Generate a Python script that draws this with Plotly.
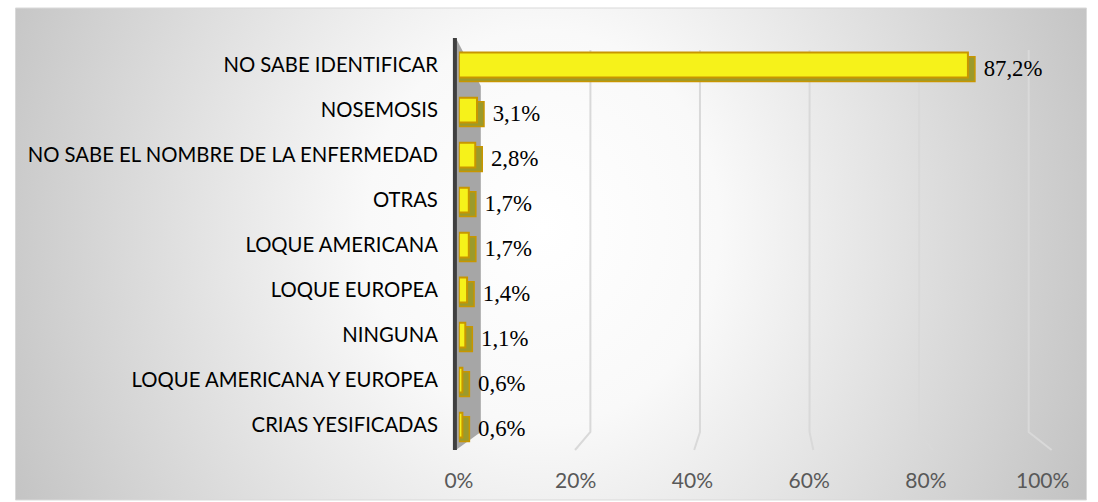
import plotly.graph_objects as go

categories = [
    "NO SABE IDENTIFICAR",
    "NOSEMOSIS",
    "NO SABE EL NOMBRE DE LA ENFERMEDAD",
    "OTRAS",
    "LOQUE AMERICANA",
    "LOQUE EUROPEA",
    "NINGUNA",
    "LOQUE AMERICANA Y EUROPEA",
    "CRIAS YESIFICADAS",
]
percentages = [87.2, 3.1, 2.8, 1.7, 1.7, 1.4, 1.1, 0.6, 0.6]
x_ticks = [0, 20, 40, 60, 80, 100]
x_tick_labels = ["0%", "20%", "40%", "60%", "80%", "100%"]

W, H = 1114, 502
DEPTH = 1.2  # fake 3D depth of the bars, in axis units

# screen position -> paper fraction (calibrated to how the page is captured)
SX, OX = 0.966, 14.4
FRAME = (OX, 1090, 8, 500)  # left, right, top, bottom on screen


def px(x):
    return ((x - OX) / SX) / W


def py(y):
    return 1 - y / H


labels = [f"\u00a0{v:.1f}%".replace(".", ",") for v in percentages]

fig = go.Figure()

# background (helper axes in screen units, clipped to the chart frame)
fig.add_trace(
    go.Scatter(
        x=[-46, 1136, 1136, -46, -46],
        y=[-430, -430, 885, 885, -430],
        mode="lines",
        fill="toself",
        line=dict(width=0),
        fillgradient=dict(
            type="radial",
            colorscale=[[0, "#ffffff"], [0.3, "#f9f9f9"], [1, "#c3c3c3"]],
        ),
        hoverinfo="skip",
        showlegend=False,
    )
)

# left wall of the 3D chart
fig.add_trace(
    go.Scatter(
        x=[457, 482, 482, 457, 457],
        y=[38, 86, 432, 450, 38],
        mode="lines",
        fill="toself",
        fillcolor="#a6a6a6",
        line=dict(width=0),
        hoverinfo="skip",
        showlegend=False,
    )
)
fig.add_trace(
    go.Scatter(
        x=[456, 456],
        y=[38, 450],
        mode="lines",
        line=dict(color="#3f3f3f", width=4),
        hoverinfo="skip",
        showlegend=False,
    )
)

# gridlines on the back wall, bending onto the floor
gx, gy = [], []
for v in x_ticks[1:]:
    gx += [482 + 5.5 * v, 482 + 5.5 * v, 457 + 5.98 * v, None]
    gy += [50, 432, 450, None]
fig.add_trace(
    go.Scatter(
        x=gx, y=gy, mode="lines",
        line=dict(color="#d9d9d9", width=2),
        hoverinfo="skip", showlegend=False,
    )
)

# bars: dark depth behind, yellow front
fig.add_trace(
    go.Bar(
        x=[v + DEPTH for v in percentages],
        y=categories,
        orientation="h",
        width=0.55,
        offset=-0.275 + 0.09,
        marker=dict(color="#9b9a2c", line=dict(color="#c89600", width=1.5)),
        text=labels,
        textposition="outside",
        cliponaxis=False,
        textfont=dict(family="Liberation Serif", size=23, color="#000000"),
        hoverinfo="skip",
        showlegend=False,
        xaxis="x2",
        yaxis="y2",
    )
)
fig.add_trace(
    go.Bar(
        x=percentages,
        y=categories,
        orientation="h",
        width=0.55,
        offset=-0.275,
        marker=dict(color="#f6f21a", line=dict(color="#c89600", width=2)),
        showlegend=False,
        xaxis="x2",
        yaxis="y2",
    )
)

left, right, top, bottom = FRAME
fig.update_layout(
    width=W,
    height=H,
    margin=dict(l=0, r=0, t=0, b=0),
    paper_bgcolor="#ffffff",
    plot_bgcolor="rgba(0,0,0,0)",
    barmode="overlay",
    shapes=[
        dict(type="rect", xref="paper", yref="paper",
             x0=px(left + 0.5), x1=px(right), y0=py(bottom), y1=py(top),
             line=dict(color="#d9d9d9", width=1)),
    ],
    xaxis=dict(domain=[px(left), px(right)], range=[left, right],
               visible=False, fixedrange=True),
    yaxis=dict(domain=[py(bottom), py(top)], range=[bottom, top],
               visible=False, fixedrange=True),
    xaxis2=dict(
        domain=[px(460), px(1046)],
        anchor="y2",
        range=[0, 100],
        tickvals=x_ticks,
        ticktext=x_tick_labels,
        showgrid=False,
        zeroline=False,
        showline=False,
        ticklabelstandoff=18,
        tickfont=dict(family="Lato", size=21, color="#595959"),
    ),
    yaxis2=dict(
        domain=[py(447.5), py(42.5)],
        anchor="x2",
        autorange="reversed",
        showgrid=False,
        zeroline=False,
        showline=False,
        ticklabelstandoff=20,
        tickfont=dict(family="Lato", size=20.3, color="#000000"),
    ),
)

fig.write_html(
    "out.html",
    config={"responsive": False, "displayModeBar": False},
    post_script="document.body.style.margin = '0';",
)
